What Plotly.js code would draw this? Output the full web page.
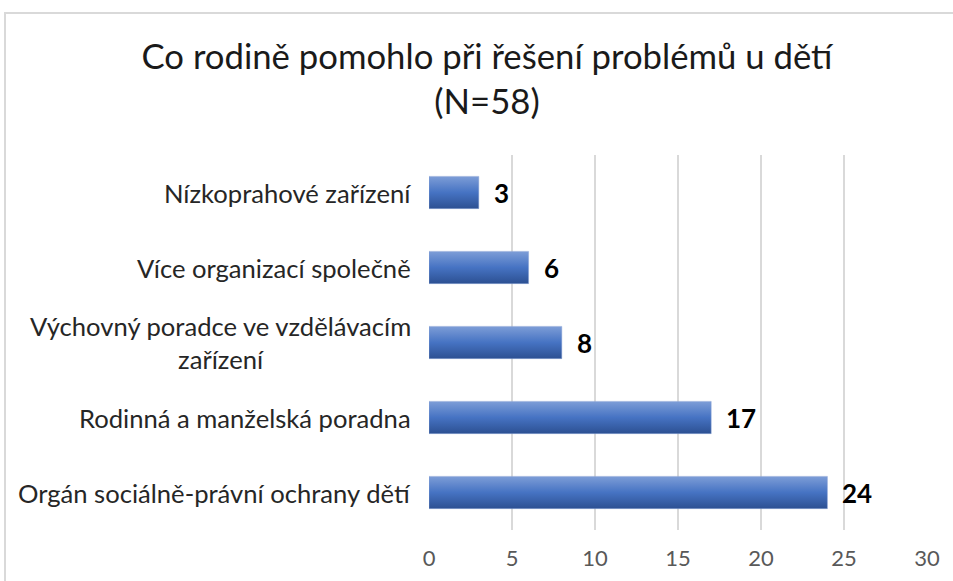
<!DOCTYPE html>
<html>
<head>
<meta charset="utf-8">
<script src="https://cdn.plot.ly/plotly-3.0.1.min.js"></script>
<style>
html,body{margin:0;padding:0;background:#fff;}
#wrap{position:relative;width:953px;height:581px;overflow:hidden;}
#chart{position:absolute;left:0;top:0;width:953px;height:581px;}
#frame{position:absolute;left:4px;top:12px;width:1000px;height:700px;border-left:2px solid #d9d9d9;border-top:2px solid #d9d9d9;pointer-events:none;}
</style>
</head>
<body>
<div id="wrap"><div id="chart"></div><div id="frame"></div></div>
<script>
// Data (bottom to top)
const categories = [
  "Orgán sociálně-právní ochrany dětí",
  "Rodinná a manželská poradna",
  "Výchovný poradce ve vzdělávacím<br>zařízení",
  "Více organizací společně",
  "Nízkoprahové zařízení"
];
const values = [24, 17, 8, 6, 3];
const xTicks = [0, 5, 10, 15, 20, 25, 30];

const FONT = "Lato, 'Open Sans', sans-serif";
const half = 0.215;
const positions = categories.map((c, i) => i);

const traces = values.map((v, i) => ({
  type: 'scatter',
  mode: 'lines',
  x: [0, v, v, 0, 0],
  y: [i - half, i - half, i + half, i + half, i - half],
  fill: 'toself',
  fillgradient: {
    type: 'vertical',
    colorscale: [[0, '#2c5092'], [0.5, '#4673c3'], [1, '#7d9dd7']]
  },
  line: {width: 0.8, color: 'rgba(140,165,215,0.6)'},
  hoverinfo: 'skip',
  showlegend: false
}));

const valueLabels = values.map((v, i) => ({
  x: v, y: positions[i], xref: 'x', yref: 'y',
  text: '<b>' + v + '</b>', showarrow: false,
  xanchor: 'left', yanchor: 'middle', xshift: 13,
  font: {family: FONT, size: 26, color: '#000'}
}));

const catLabels = categories.map((c, i) => ({
  x: 0, y: positions[i], xref: 'paper', yref: 'y',
  text: c, showarrow: false, align: 'center',
  xanchor: 'right', yanchor: 'middle', xshift: -16,
  font: {family: FONT, size: 25.6, color: '#262626'}
}));

const layout = {
  width: 953, height: 581,
  margin: {l: 429, r: 26, t: 155, b: 51},
  paper_bgcolor: 'rgba(0,0,0,0)', plot_bgcolor: 'rgba(0,0,0,0)',
  title: {
    text: 'Co rodině pomohlo při řešení problémů u dětí<br>(N=58)',
    font: {family: FONT, size: 34.7, color: '#1a1a1a'},
    x: 487 / 953, xanchor: 'center', xref: 'container',
    y: 1 - 69 / 581, yanchor: 'top', yref: 'container'
  },
  xaxis: {
    range: [0, 30], tickvals: xTicks, ticktext: xTicks.map(String),
    showgrid: true, gridcolor: '#d9d9d9', gridwidth: 2,
    zeroline: false, showline: false, ticks: '',
    tickfont: {family: FONT, size: 22, color: '#595959'},
    ticklabelstandoff: 13, fixedrange: true
  },
  yaxis: {
    range: [-0.5, 4.5], tickvals: positions, ticktext: categories.map(() => ''),
    showgrid: false, zeroline: false, showline: false, ticks: '',
    fixedrange: true
  },
  annotations: catLabels.concat(valueLabels)
};

Plotly.newPlot('chart', traces, layout, {displayModeBar: false, staticPlot: true});
</script>
</body>
</html>
